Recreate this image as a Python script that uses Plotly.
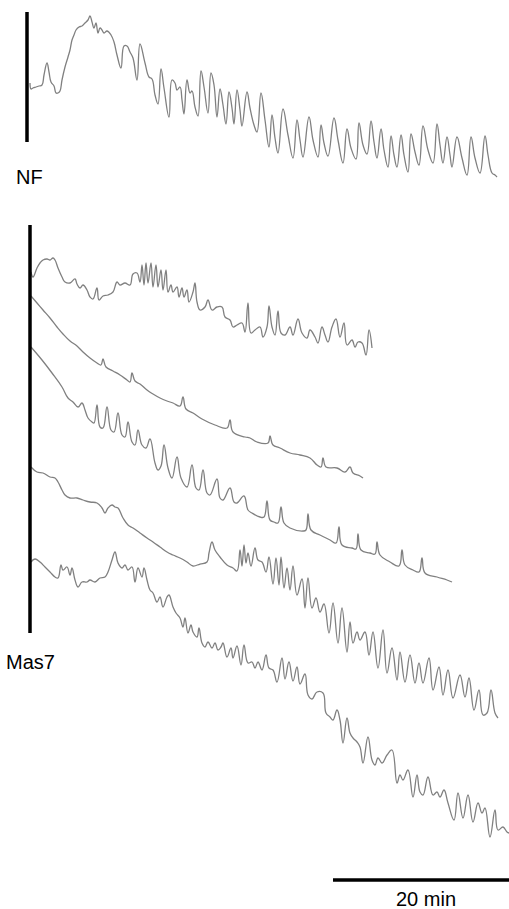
import plotly.graph_objects as go

# Time in frames (1 frame ~ 6.8 s; 176 frames = 20 min), amplitude in arbitrary units
nf_t = [0,1,3,6,9,12,14,17,19,21,24,26,28,30,32,35,38,40,42,44,46,49,52,55,58,60,62,64,66,68,70,72,74,77,81,84,87,91,94,97,100,103,107,110,115,119,122,125,128,131,134,139,142,145,147,150,152,154,157,160,162,165,168,171,174,178,181,184,187,190,193,196,199,202,204,207,210,212,217,220,224,227,231,235,239,242,245,248,253,258,263,267,270,273,279,283,288,291,294,298,304,308,313,317,321,326,329,333,337,341,344,347,351,354,358,361,364,367,371,374,378,381,385,389,393,398,403,407,410,413,417,420,422,427,432,437,441,445,450,455,458,462,465,467]
nf_v = [0,-6,-5,-4,-3,-2,8,20,11,1,-3,-10,-10,-8,3,16,26,33,43,48,53,56,57,60,63,67,61,55,60,50,55,53,50,52,48,41,28,15,37,37,31,25,3,39,20,6,4,-12,-21,14,-5,-34,3,0,-7,-4,-17,-31,3,-10,-8,-24,-33,12,-4,-30,10,-2,-34,-6,-22,-41,-9,-25,-41,-7,-27,-43,-9,-25,-42,-49,-10,-37,-64,-32,-55,-70,-26,-52,-75,-37,-57,-74,-34,-57,-74,-42,-60,-73,-35,-57,-80,-46,-65,-76,-40,-62,-71,-38,-59,-75,-46,-67,-84,-53,-72,-84,-52,-72,-89,-51,-69,-82,-43,-67,-80,-41,-62,-80,-54,-72,-84,-54,-75,-92,-54,-75,-90,-53,-72,-90,-92,-94]

m1_t = [1,3,7,10,13,17,20,23,25,28,32,35,40,45,47,50,53,57,60,63,67,69,73,78,83,87,90,95,100,103,107,110,112,114,116,118,121,123,126,128,131,133,136,138,141,143,147,149,152,154,157,159,163,165,167,170,175,178,182,187,192,195,200,203,207,212,215,218,221,225,230,233,237,239,242,245,248,251,255,260,263,268,272,277,280,285,288,292,295,298,302,306,310,314,317,322,325,328,332,336,339,342]
m1_v = [1,-4,5,10,13,14,13,15,13,5,-4,-9,-10,-6,-11,-15,-12,-17,-24,-26,-15,-27,-23,-22,-19,-9,-12,-10,-12,-1,0,-9,8,-12,10,-10,10,-14,8,-14,3,-17,3,-19,-12,-19,-14,-24,-15,-24,-17,-29,-19,-10,-29,-37,-34,-27,-37,-34,-34,-44,-47,-54,-52,-50,-59,-30,-60,-57,-54,-64,-54,-33,-54,-62,-38,-60,-62,-54,-62,-46,-60,-65,-57,-64,-70,-54,-62,-69,-54,-46,-64,-50,-72,-67,-74,-69,-70,-82,-57,-75]

m2_t = [1,7,13,20,27,33,40,47,53,60,67,71,73,76,83,90,97,100,102,105,110,117,123,130,137,143,150,153,156,163,172,185,197,200,203,215,220,227,238,240,243,250,260,270,280,287,291,293,296,307,315,320,323,330,333]
m2_v = [0,-7,-14,-22,-31,-38,-45,-50,-56,-62,-67,-69,-63,-71,-75,-79,-84,-86,-77,-85,-88,-94,-98,-102,-105,-107,-110,-101,-113,-117,-123,-129,-132,-124,-136,-141,-142,-146,-147,-140,-149,-152,-157,-159,-162,-169,-171,-162,-171,-172,-176,-171,-177,-180,-182]

m3_t = [1,12,22,32,38,43,48,52,55,58,62,64,67,70,73,77,81,84,88,92,95,98,102,105,108,112,116,120,125,128,131,134,138,142,147,151,157,162,166,169,173,177,180,187,190,193,200,204,207,214,218,222,230,234,237,240,244,248,251,254,260,273,276,278,281,290,300,306,309,312,322,326,328,331,340,345,347,350,360,369,372,375,383,389,392,395,407,417,422]
m3_v = [0,-13,-26,-40,-51,-55,-60,-56,-63,-71,-75,-76,-58,-80,-81,-60,-83,-85,-66,-88,-90,-75,-95,-98,-83,-98,-101,-92,-116,-123,-119,-98,-121,-131,-110,-131,-140,-118,-141,-143,-123,-146,-148,-132,-151,-153,-141,-155,-156,-149,-163,-166,-170,-170,-154,-173,-175,-176,-160,-176,-181,-184,-183,-167,-183,-188,-193,-196,-180,-198,-201,-202,-187,-203,-206,-207,-195,-208,-215,-219,-203,-218,-223,-225,-211,-226,-230,-233,-235]

m4_t = [1,7,13,20,25,28,32,35,40,47,53,60,67,72,75,78,82,85,88,93,98,103,110,117,123,130,137,143,150,157,163,170,177,179,182,185,190,197,203,207,210,212,214,216,218,221,225,228,232,236,239,243,246,249,251,254,257,260,263,267,272,275,278,282,286,290,294,299,303,308,312,317,320,323,327,330,335,339,343,348,353,357,362,367,370,375,380,385,389,393,399,403,409,413,418,423,430,435,439,444,449,453,457,461,465,468]
m4_v = [0,-5,-6,-10,-11,-15,-23,-28,-31,-31,-33,-35,-36,-41,-46,-41,-38,-40,-41,-51,-58,-61,-66,-71,-75,-80,-85,-88,-91,-95,-99,-97,-95,-86,-75,-83,-90,-98,-101,-104,-83,-99,-78,-96,-86,-99,-81,-93,-95,-105,-90,-117,-91,-118,-90,-121,-101,-123,-99,-128,-112,-141,-111,-141,-131,-145,-137,-166,-136,-176,-141,-185,-155,-176,-165,-173,-165,-188,-165,-201,-163,-206,-181,-213,-185,-215,-188,-216,-196,-216,-191,-223,-200,-228,-203,-231,-208,-230,-211,-243,-223,-248,-246,-223,-246,-251]

m5_t = [1,5,10,15,20,25,28,31,33,37,40,42,45,48,52,57,60,65,70,75,78,82,85,88,92,95,98,102,105,108,112,114,117,120,123,127,130,133,137,139,143,146,150,153,155,158,161,163,167,169,172,175,178,182,185,188,191,193,197,201,203,207,211,214,218,222,225,228,232,236,239,243,247,252,255,259,263,267,270,275,278,282,287,293,296,300,303,307,310,313,317,320,323,327,330,333,338,342,345,348,352,357,362,367,370,373,378,383,387,390,393,398,403,407,410,414,418,424,428,433,438,443,448,452,455,460,465,468,473,477,479]
m5_v = [0,3,0,-5,-10,-15,-16,-3,-8,-5,-13,-6,-18,-25,-20,-20,-18,-20,-16,-15,-10,2,10,-1,-6,-3,-8,-5,-20,-6,-15,-6,-18,-28,-31,-40,-35,-45,-35,-33,-45,-51,-56,-65,-56,-71,-63,-70,-75,-66,-81,-85,-80,-86,-81,-88,-85,-81,-95,-86,-96,-84,-103,-83,-101,-100,-106,-100,-108,-93,-106,-108,-120,-96,-117,-100,-119,-105,-122,-112,-133,-137,-130,-131,-151,-155,-158,-148,-158,-181,-156,-171,-176,-180,-185,-201,-175,-198,-203,-196,-201,-193,-188,-221,-213,-218,-208,-235,-213,-230,-233,-215,-233,-230,-235,-228,-241,-258,-231,-256,-233,-260,-241,-251,-246,-275,-248,-268,-265,-270,-271]

series = [
    ("NF", nf_t, nf_v, 83),
    ("Mas7 1", m1_t, m1_v, 273),
    ("Mas7 2", m2_t, m2_v, 296),
    ("Mas7 3", m3_t, m3_v, 347),
    ("Mas7 4", m4_t, m4_v, 467),
    ("Mas7 5", m5_t, m5_v, 562),
]

fig = go.Figure()
for name, t, v, base in series:
    fig.add_trace(go.Scatter(
        x=t, y=[val - base for val in v], mode="lines", name=name,
        line=dict(color="#808080", width=1.3, shape="spline", smoothing=1.2),
        hoverinfo="skip", showlegend=False))

# scale bars
fig.add_shape(type="line", x0=-3, x1=-3, y0=-12, y1=-142, line=dict(color="black", width=3.5))
fig.add_shape(type="line", x0=0, x1=0, y0=-225, y1=-633, line=dict(color="black", width=3.5))
fig.add_shape(type="line", x0=303, x1=479, y0=-880, y1=-880, line=dict(color="black", width=3.5))

font = dict(family="Liberation Sans, Arial, sans-serif", size=20, color="black")
fig.add_annotation(x=-16, y=-177, text="NF", showarrow=False, xanchor="left", yanchor="middle", font=font)
fig.add_annotation(x=-26, y=-662, text="Mas7", showarrow=False, xanchor="left", yanchor="middle", font=font)
fig.add_annotation(x=396, y=-899, text="20 min", showarrow=False, xanchor="center", yanchor="middle", font=font)

fig.update_layout(
    width=509, height=909, autosize=False,
    margin=dict(l=0, r=0, t=0, b=0),
    paper_bgcolor="white", plot_bgcolor="white",
    xaxis=dict(range=[-30, 479], visible=False, fixedrange=True),
    yaxis=dict(range=[-909, 0], visible=False, fixedrange=True),
)
fig.write_html("out.html")
